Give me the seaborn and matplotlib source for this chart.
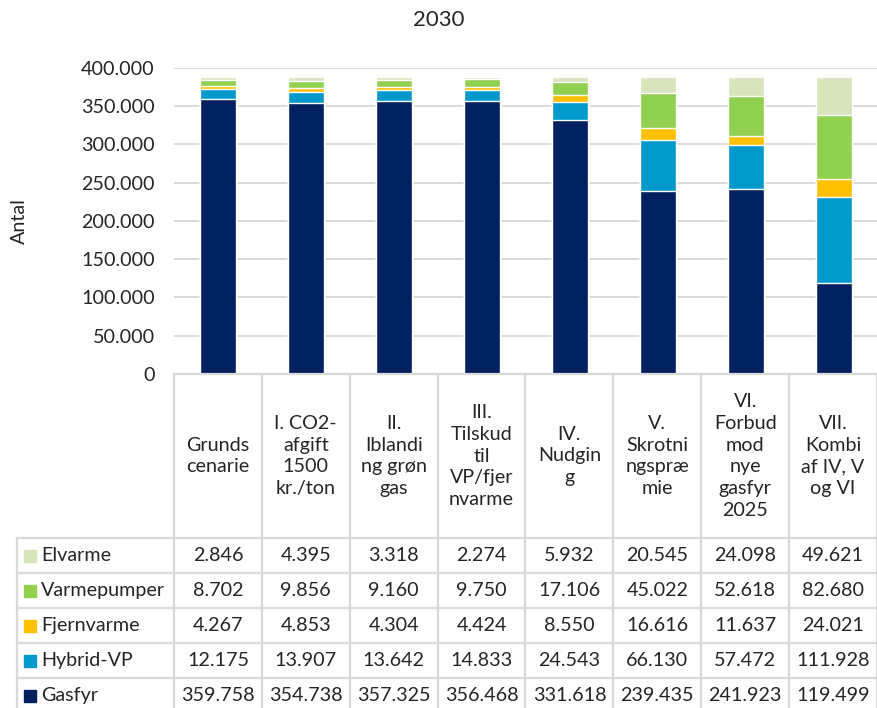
"""Stacked bar chart 2030 with data table underneath."""
import matplotlib.pyplot as plt
import numpy as np
import pandas as pd
import seaborn as sns
from matplotlib.patches import Rectangle

scenarios = [
    "Grunds\ncenarie",
    "I. CO2-\nafgift\n1500\nkr./ton",
    "II.\nIblandi\nng grøn\ngas",
    "III.\nTilskud\ntil\nVP/fjer\nnvarme",
    "IV.\nNudgin\ng",
    "V.\nSkrotni\nngspræ\nmie",
    "VI.\nForbud\nmod\nnye\ngasfyr\n2025",
    "VII.\nKombi\naf IV, V\nog VI",
]
gasfyr = [359758, 354738, 357325, 356468, 331618, 239435, 241923, 119499]
hybrid_vp = [12175, 13907, 13642, 14833, 24543, 66130, 57472, 111928]
fjernvarme = [4267, 4853, 4304, 4424, 8550, 16616, 11637, 24021]
varmepumper = [8702, 9856, 9160, 9750, 17106, 45022, 52618, 82680]
elvarme = [2846, 4395, 3318, 2274, 5932, 20545, 24098, 49621]

series_names = ["Gasfyr", "Hybrid-VP", "Fjernvarme", "Varmepumper", "Elvarme"]
series_values = [gasfyr, hybrid_vp, fjernvarme, varmepumper, elvarme]
colors = {
    "Gasfyr": "#002060",
    "Hybrid-VP": "#0099cc",
    "Fjernvarme": "#ffc000",
    "Varmepumper": "#92d050",
    "Elvarme": "#d8e4bc",
}

sns.set_style("white")
plt.rcParams["font.family"] = ["Lato", "DejaVu Sans"]
FS = 14.2
GRID = "#d9d9d9"

W, H = 878, 708
fig = plt.figure(figsize=(W / 100, H / 100), dpi=100)

# plot area in pixels
x0, x1 = 174, 878
y_top, y_zero = 68, 374
ax = fig.add_axes([x0 / W, 1 - y_zero / H, (x1 - x0) / W, (y_zero - y_top) / H])

df = pd.DataFrame({"scenario": [str(i) for i in range(len(scenarios))]})
cum = np.zeros(len(scenarios))
for name, vals in zip(series_names, series_values):
    cum = cum + np.array(vals)
    df[name] = cum

# draw cumulative totals from top layer down so they stack
for name in reversed(series_names):
    sns.barplot(data=df, x="scenario", y=name, color=colors[name], width=0.41,
                saturation=1, errorbar=None, ax=ax, zorder=2)

ax.set_xlim(-0.5, len(scenarios) - 0.5)
ax.set_ylim(0, 400000)
ax.set_yticks(np.arange(0, 400001, 50000))
ax.set_yticklabels([f"{v:,.0f}".replace(",", ".") for v in ax.get_yticks()], fontsize=FS)
ax.tick_params(axis="y", length=0, pad=14)
ax.tick_params(axis="x", labelbottom=False, length=0)
ax.set_xlabel("")
ax.set_ylabel("Antal", fontsize=FS)
ax.yaxis.set_label_coords((28 - x0) / (x1 - x0), 0.5)
ax.set_axisbelow(True)
ax.yaxis.grid(True, color=GRID, lw=1.4)
for s in ax.spines.values():
    s.set_visible(False)

fig.text(0.5, 1 - 20 / H, "2030", ha="center", va="center", fontsize=16)

# data table drawn on an overlay in pixel coordinates
tab = fig.add_axes([0, 0, 1, 1])
tab.set_xlim(0, W)
tab.set_ylim(H, 0)
tab.axis("off")
tab.patch.set_alpha(0)

edges = np.linspace(x0, 877, len(scenarios) + 1)
centers = (edges[:-1] + edges[1:]) / 2
head_bottom = 538
row_h = 35
left = 17
lw = 1.6

tab.plot([x0, 877], [y_zero, y_zero], color=GRID, lw=lw)
for e in edges:
    tab.plot([e, e], [y_zero, H], color=GRID, lw=lw)
tab.plot([left, left], [head_bottom, H], color=GRID, lw=lw)
for k in range(5):
    y = head_bottom + k * row_h
    tab.plot([left, 877], [y, y], color=GRID, lw=lw)

for cx, lab in zip(centers, scenarios):
    tab.text(cx, (y_zero + head_bottom) / 2, lab, ha="center", va="center",
             fontsize=FS, linespacing=1.35)

table_rows = list(reversed(list(zip(series_names, series_values))))
for k, (name, vals) in enumerate(table_rows):
    yc = head_bottom + k * row_h + row_h / 2
    tab.add_patch(Rectangle((24, yc - 6), 12, 12, color=colors[name]))
    tab.text(41, yc, name, ha="left", va="center", fontsize=FS)
    for cx, v in zip(centers, vals):
        tab.text(cx, yc, f"{v:,.0f}".replace(",", "."), ha="center", va="center",
                 fontsize=FS)

fig.savefig("out.png", dpi=100)
